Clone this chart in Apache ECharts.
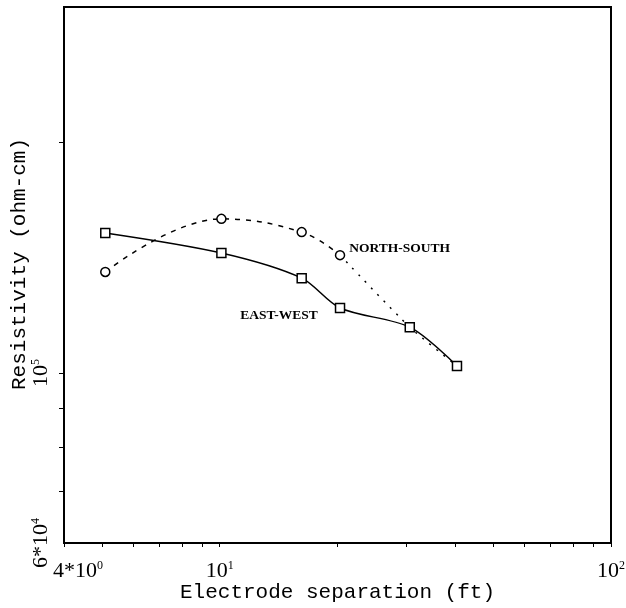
<!DOCTYPE html>
<html>
<head>
<meta charset="utf-8">
<script src="https://cdn.jsdelivr.net/npm/echarts@6/dist/echarts.min.js"></script>
<style>
  html, body { margin: 0; padding: 0; background: #fff; }
  #chart { width: 626px; height: 608px; }
</style>
</head>
<body>
<div id="chart"></div>
<script>
// electrode separation (ft) and apparent resistivity (ohm-cm)
var ewX = [5.1, 10.1, 16.2, 20.3, 30.6, 40.4];
var ewY = [152200, 143300, 132900, 121500, 114700, 102100];
var nsX = [5.1, 10.1, 16.2, 20.3, 30.6, 40.4];
var nsY = [135400, 158800, 152600, 142400, 114700, 102100];
var nsMeasured = 4; // circles for the first four, dotted line beyond

var xTicks = [4, 5, 6, 7, 8, 9, 10, 20, 30, 40, 50, 60, 70, 80, 90, 100];
var xLabels = [4, 10, 100];
var yTicks = [70000, 80000, 90000, 100000, 200000];
var yLabels = [60000, 100000];

var serif = "'Liberation Serif', 'DejaVu Serif', serif";
var mono = "'Liberation Mono', 'DejaVu Sans Mono', monospace";

function pairs(xs, ys) {
  return xs.map(function (x, i) { return [x, ys[i]]; });
}
var ew = pairs(ewX, ewY);
var ns = pairs(nsX, nsY);

// curve names written next to one point of each curve
var lblStyle = { fontFamily: serif, fontWeight: "bold", fontSize: 13.5, color: "#000" };
var ewData = ew.map(function (p, i) {
  if (i !== 3) return p;
  return { value: p, label: Object.assign({ show: true, formatter: "EAST-WEST", position: "left", distance: 17, offset: [0, 7] }, lblStyle) };
});
var nsData = ns.slice(0, nsMeasured).map(function (p, i) {
  if (i !== 3) return p;
  return { value: p, label: Object.assign({ show: true, formatter: "NORTH-SOUTH", position: "right", distance: 4, offset: [0, -7] }, lblStyle) };
});

var supRich = {
  b: { fontFamily: serif, fontSize: 22, color: "#000" },
  s: { fontFamily: serif, fontSize: 12, color: "#000", verticalAlign: "top", padding: [0, 0, 9, 0] },
  p: { fontFamily: serif, fontSize: 22, color: "#000", padding: [0, 0, 0, 28] }
};

var chart = echarts.init(document.getElementById("chart"));
chart.setOption({
  animation: false,
  backgroundColor: "#fff",
  grid: { left: 64, right: 15, top: 7, bottom: 65, outerBoundsMode: "none", containLabel: false,
          show: true, borderColor: "#000", borderWidth: 2 },
  xAxis: {
    type: "log",
    logBase: 10,
    min: 4,
    max: 100,
    name: "Electrode separation (ft)",
    nameLocation: "middle",
    nameGap: 39,
    nameMoveOverlap: false,
    nameTextStyle: { fontFamily: mono, fontSize: 21, color: "#000" },
    axisLine: { show: true, lineStyle: { color: "#000", width: 2 } },
    splitLine: { show: false },
    axisTick: { show: true, inside: false, length: 4, customValues: xTicks, lineStyle: { color: "#000" } },
    axisLabel: {
      customValues: xLabels,
      margin: 17,
      color: "#000",
      formatter: function (v) {
        if (v < 5) return "{p|4*10}{s|0}";
        if (v < 50) return "{b|10}{s|1}";
        return "{b|10}{s|2}";
      },
      rich: supRich
    }
  },
  yAxis: {
    type: "log",
    logBase: 10,
    min: 60000,
    max: 300000,
    name: "Resistivity (ohm-cm)",
    nameLocation: "middle",
    nameGap: 34,
    nameMoveOverlap: false,
    nameRotate: 90,
    nameTextStyle: { fontFamily: mono, fontSize: 21, color: "#000", padding: [0, 0, 0, 22] },
    axisLine: { show: true, lineStyle: { color: "#000", width: 2 } },
    splitLine: { show: false },
    axisTick: { show: true, inside: false, length: 5, customValues: yTicks, lineStyle: { color: "#000" } },
    axisLabel: {
      customValues: yLabels,
      rotate: 90,
      margin: 12,
      color: "#000",
      formatter: function (v) {
        if (v < 70000) return "{b|6*10}{s|4}";
        return "{b|10}{s|5}";
      },
      rich: supRich
    }
  },
  series: [
    {
      name: "EAST-WEST",
      type: "line",
      data: ewData,
      smooth: 0.3,
      symbol: "rect",
      symbolSize: 9,
      itemStyle: { color: "#fff", borderColor: "#000", borderWidth: 1.5 },
      lineStyle: { color: "#000", width: 1.5, type: "solid" },
      z: 3
    },
    {
      name: "NORTH-SOUTH",
      type: "line",
      data: nsData,
      smooth: 0.4,
      symbol: "circle",
      symbolSize: 9,
      itemStyle: { color: "#fff", borderColor: "#000", borderWidth: 1.5 },
      lineStyle: { color: "#000", width: 1.5, type: [5, 6] },
      z: 2
    },
    {
      name: "NORTH-SOUTH tail",
      type: "line",
      data: ns.slice(nsMeasured - 1),
      smooth: 0.2,
      symbol: "none",
      lineStyle: { color: "#000", width: 1.5, type: [2, 7] },
      z: 1
    }
  ]
});
</script>
</body>
</html>
